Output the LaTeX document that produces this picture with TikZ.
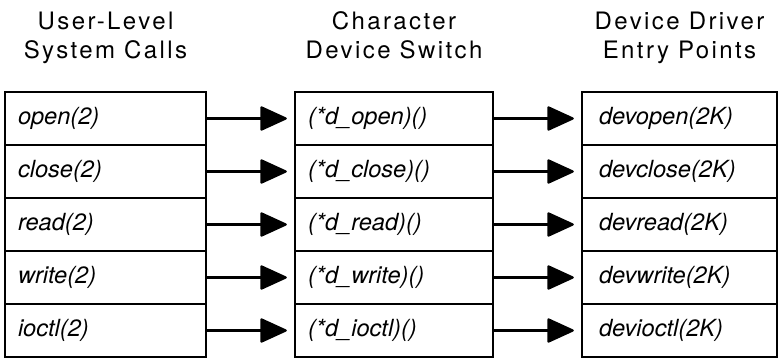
\documentclass[tikz,border=0pt]{standalone}
\usepackage{fontspec}
\setmainfont{TeX Gyre Heros}
\newfontfamily\hdrfont[LetterSpace=10]{TeX Gyre Heros}
\usetikzlibrary{arrows.meta}
\begin{document}
\begin{tikzpicture}[x=1pt,y=-1pt,
  cell/.style={draw,line width=2.4pt,rectangle,minimum height=53pt,
    inner ysep=0pt,align=left,font=\fontsize{23.6}{26}\selectfont\itshape},
  lcell/.style={cell,inner xsep=13pt,text width=175pt},
  mcell/.style={cell,inner xsep=13pt,text width=172pt},
  rcell/.style={cell,inner xsep=17pt,text width=161pt},
  hdr/.style={anchor=base,inner sep=0pt,font=\hdrfont\fontsize{24}{28}\selectfont},
  link/.style={line width=2.2pt,
    -{Triangle[length=28pt,width=25pt,line join=round]},shorten >=7pt}
]
\useasboundingbox (0,0) rectangle (779,358);

% column headings
\node[hdr] (hl1) at (105.5,30) {User-Level};
\node[hdr] (hl2) at (105.5,59) {System Calls};
\node[hdr] (hm1) at (394,30) {Character};
\node[hdr] (hm2) at (394,59) {Device Switch};
\node[hdr] (hr1) at (679.5,30) {Device Driver};
\node[hdr] (hr2) at (679.5,59) {Entry Points};

% system calls, switch entries and driver routines, one row each
\foreach \i/\sc/\sw/\dv in {0/open(2)/(*d\_open)()/devopen(2K),
                          1/close(2)/(*d\_close)()/devclose(2K),
                          2/read(2)/(*d\_read)()/devread(2K),
                          3/write(2)/(*d\_write)()/devwrite(2K),
                          4/ioctl(2)/(*d\_ioctl)()/devioctl(2K)}{
  \node[lcell] (u\i) at (105.5,118.5+53*\i) {\sc};
  \node[mcell] (s\i) at (394,118.5+53*\i) {\sw};
  \node[rcell] (d\i) at (679.5,118.5+53*\i) {\dv};
  \draw[link] (u\i.east) -- (s\i.west);
  \draw[link] (s\i.east) -- (d\i.west);
}
\end{tikzpicture}
\end{document}
